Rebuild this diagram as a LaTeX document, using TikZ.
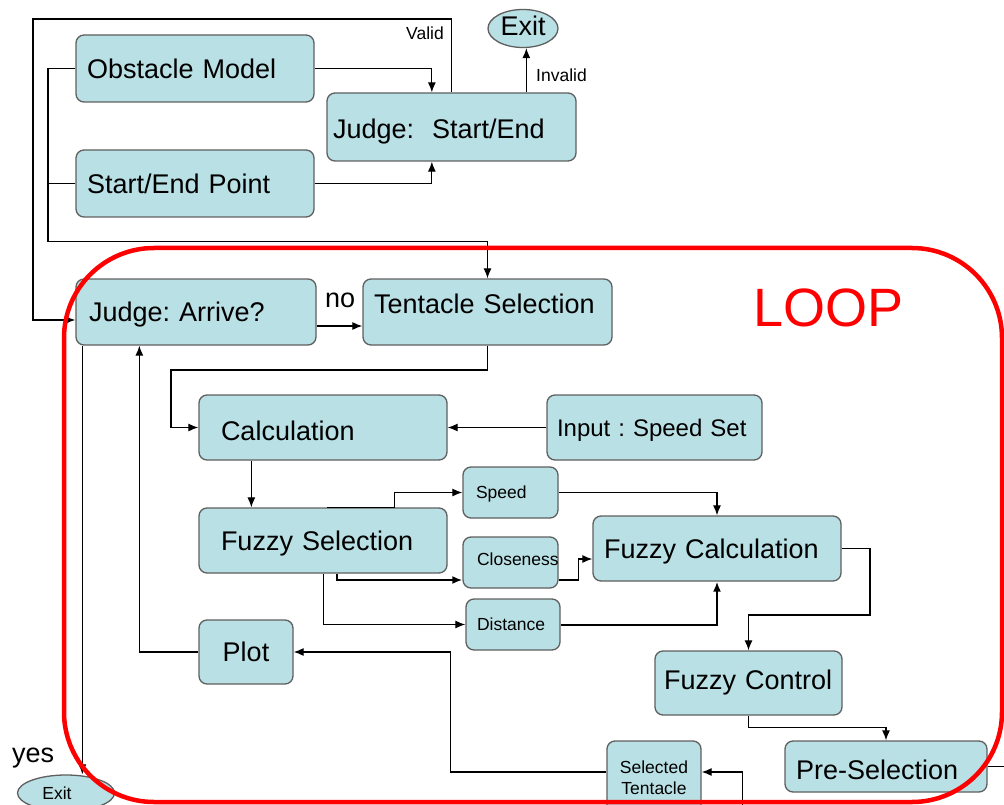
\documentclass[tikz,border=0pt]{standalone}
\usepackage{fontspec}
\setmainfont{Liberation Sans}
\usetikzlibrary{arrows.meta,calc,shapes.geometric}
\definecolor{boxfill}{RGB}{185,224,228}
\definecolor{boxline}{RGB}{95,95,95}
\definecolor{loopred}{RGB}{255,0,0}
\frenchspacing
\tikzset{
  box/.style={draw=boxline, fill=boxfill, line width=1.3pt, rounded corners=8pt, anchor=center, inner ysep=0pt},
  big/.style={font=\fontsize{27}{32}\selectfont\frenchspacing, text height=19.4pt, text depth=0pt},
  mid/.style={font=\fontsize{24}{29}\selectfont\frenchspacing, text height=17.2pt, text depth=0pt},
  small/.style={font=\fontsize{17.5}{21}\selectfont\frenchspacing, text height=12.6pt, text depth=0pt},
  conn/.style={draw=black, line width=1.2pt},
  arr/.style={conn, -{Latex[length=10pt,width=8pt]}},
  thickarr/.style={arr, line width=2pt},
  ell/.style={ellipse, draw=boxline, fill=boxfill, line width=1.3pt, inner sep=0pt},
  lbl/.style={inner sep=0pt, anchor=base west},
}
\begin{document}
\begin{tikzpicture}[x=1pt,y=-1pt]
\useasboundingbox (0,0) rectangle (1004,805);

% boxes
\node[box, big, minimum width=238, minimum height=67, text width=216, inner xsep=11, align=left] (obs) at (195,68.5) {Obstacle Model};
\node[box, big, minimum width=249, minimum height=68, text width=237, inner xsep=6, align=left] (judgeSE) at (451.5,127) {\raisebox{-2pt}{Judge:\ \ Start/End}};
\node[box, big, minimum width=238, minimum height=67, text width=216, inner xsep=11, align=left] (sep) at (195,183.5) {Start/End Point};
\node[ell, big, minimum width=70, minimum height=38] (exit1) at (523,28.5) {\raisebox{3pt}{Exit}};

\node[box, big, minimum width=240, minimum height=66, text width=214, inner xsep=13, align=left] (arrive) at (196,312) {Judge: Arrive?};
\node[box, big, minimum width=249, minimum height=66, text width=227, inner xsep=11, align=left] (tent) at (487.5,312) {\raisebox{8pt}{Tentacle Selection}};
\node[box, big, minimum width=248, minimum height=65, text width=204, inner xsep=22, align=left] (calc) at (323,427.5) {\raisebox{-3pt}{Calculation}};
\node[box, mid, minimum width=215, minimum height=65, text width=195, inner xsep=10, align=left] (input) at (654.5,427.5) {Input : Speed Set};
\node[box, big, minimum width=248, minimum height=65, text width=204, inner xsep=22, align=left] (fsel) at (323,540.5) {Fuzzy Selection};
\node[box, small, minimum width=95, minimum height=51, text width=69, inner xsep=13, align=left] (speed) at (510.5,492.5) {Speed};
\node[box, small, minimum width=95, minimum height=51, text width=67, inner xsep=14, align=left] (close) at (510.5,562.5) {\raisebox{3.5pt}{\rlap{Closeness}}};
\node[box, small, minimum width=94, minimum height=51, text width=72, inner xsep=11, align=left] (dist) at (513,624.5) {Distance};
\node[box, big, minimum width=248, minimum height=65, text width=226, inner xsep=11, align=left] (fcalc) at (717,548.5) {Fuzzy Calculation};
\node[box, big, minimum width=94, minimum height=64, inner xsep=0pt] (plot) at (246,652) {Plot};
\node[box, big, minimum width=187, minimum height=64, text width=169, inner xsep=9, align=left] (fctrl) at (748.5,683) {\raisebox{3pt}{Fuzzy Control}};
\node[box, big, minimum width=202, minimum height=51, text width=180, inner xsep=11, align=left] (presel) at (886,766.5) {\raisebox{-3pt}{Pre-Selection}};
\node[box, font=\fontsize{17.5}{21}\selectfont, minimum width=94, minimum height=74, text width=90, inner xsep=2, align=center] (seltent) at (654,778) {Selected\\Tentacle};
\node[ell, small, minimum width=97, minimum height=36] (exit2) at (66,793) {\kern-9pt Exit\kern9pt};

% labels
\node[lbl, font=\fontsize{17.5}{21}\selectfont] (valid) at (406,40) {Valid};
\node[lbl, font=\fontsize{17.5}{21}\selectfont] (invalid) at (536,82) {Invalid};
\node[lbl, font=\fontsize{27}{32}\selectfont] (no) at (325,307) {no};
\node[lbl, font=\fontsize{27}{32}\selectfont] (yes) at (12,762) {yes};
\node[lbl, font=\fontsize{54}{60}\selectfont, text=loopred] (loop) at (753,326) {LOOP};

% connectors (top part)
\draw[arr] (obs.east) -| ($(judgeSE.north west)+(105.5,0)$);
\draw[arr] (sep.east) -| ($(judgeSE.south west)+(105.5,0)$);
\coordinate (tl) at (33,19);
\draw[arr] (judgeSE.north) |- (tl) |- ($(arrive.west)+(0,8)$);
\draw[arr] ($(judgeSE.north west)+(200,0)$) coordinate (inv) -- (inv |- exit1.south);
\coordinate (lb) at (48,241.5);
\draw[arr] (obs.west) -| (lb) -| (tent.north);
\draw[conn] (sep.west) -- (sep.west -| lb);

% loop connectors
\draw[arr] ($(arrive.east)+(0,14)$) -- ($(tent.west)+(0,14)$);
\coordinate (c1) at (171,370);
\draw[arr] (tent.south) |- (c1) |- (calc.west);
\draw[arr] (input.west) -- (calc.east);
\draw[arr] ($(calc.south west)+(53,0)$) coordinate (c2) -- (c2 |- fsel.north);
\draw[arr] ($(fsel.north west)+(129,0)$) -| ($(speed.west)+(-68,0)$) -- (speed.west);
\draw[thickarr] ($(fsel.south west)+(139,0)$) |- ($(close.west)+(0,17.5)$);
\draw[arr] ($(fsel.south west)+(125,0)$) |- (dist.west);
\draw[arr] (speed.east) -| (fcalc.north);
\draw[arr] ($(close.east)+(0,17.5)$) -| ($(fcalc.west)+(-14,10.5)$) -- ($(fcalc.west)+(0,10.5)$);
\draw[thickarr] (dist.east) -| (fcalc.south);
\coordinate (c4) at (870,615);
\draw[arr] (fcalc.east) -| (c4) -| (fctrl.north);
\draw[arr] (fctrl.south) -- ++(0,12) -| (presel.north);
\coordinate (o1) at (1030,830);
\draw[arr] (presel.east) -| (o1) -| ($(seltent.east)+(41,-6)$) -- ($(seltent.east)+(0,-6)$);
\draw[arr] ($(seltent.west)+(0,-6)$) -| ($(plot.east)+(157,0)$) -- (plot.east);
\draw[arr] (plot.west) -| ($(arrive.south west)+(64,0)$);
\draw[arr] ($(arrive.south west)+(7,0)$) coordinate (c6) -- (c6 |- exit2.north);

% red loop frame
\draw[loopred, line width=4.5pt, rounded corners=90pt] (64,248) rectangle (1002,802);
\end{tikzpicture}
\end{document}
